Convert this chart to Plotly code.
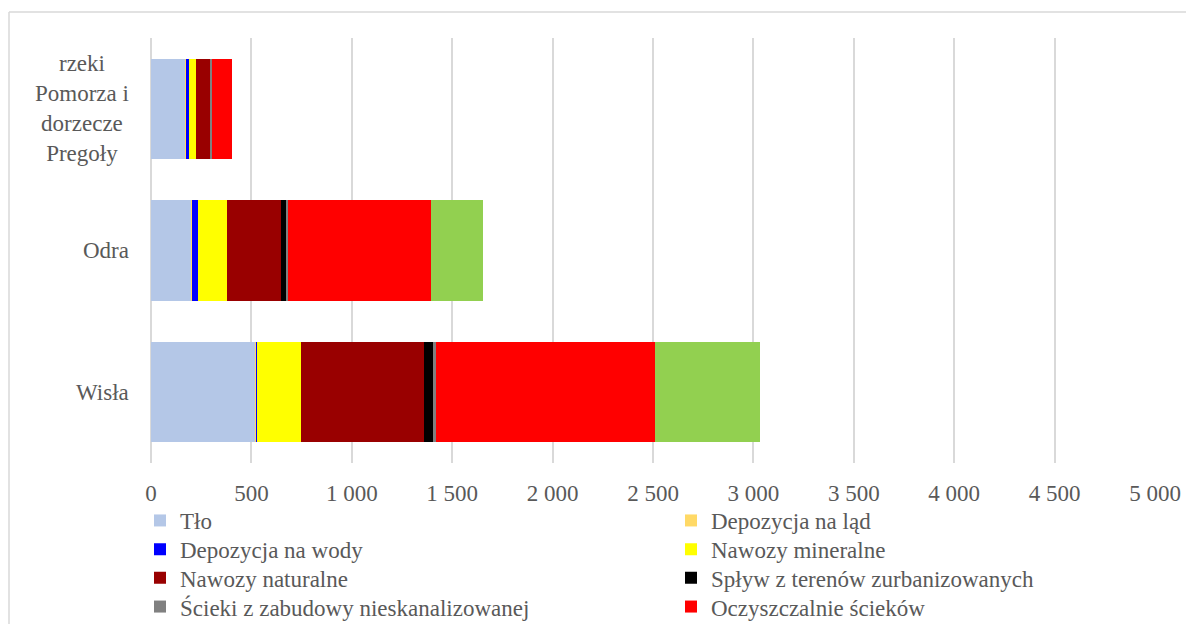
import plotly.graph_objects as go

categories = ["rzeki<br>Pomorza i<br>dorzecze<br>Pregoły", "Odra", "Wisła"]

tlo = [173, 204, 522]
depozycja_lad = [3, 2, 3]
depozycja_wody = [12, 26, 5]
nawozy_mineralne = [35, 148, 219]
nawozy_naturalne = [71, 269, 611]
splyw = [4, 25, 44]
scieki_nieskan = [4, 7, 14]
oczyszczalnie = [100, 712, 1091]
przemysl = [0, 260, 522]

series_names = [
    "Tło", "Depozycja na ląd", "Depozycja na wody", "Nawozy mineralne",
    "Nawozy naturalne", "Spływ z terenów zurbanizowanych",
    "Ścieki z zabudowy nieskanalizowanej", "Oczyszczalnie ścieków",
    "Zakłady przemysłowe",
]
series_values = [tlo, depozycja_lad, depozycja_wody, nawozy_mineralne,
                 nawozy_naturalne, splyw, scieki_nieskan, oczyszczalnie,
                 przemysl]
series_colors = ["#B4C7E7", "#FFD966", "#0000FF", "#FFFF00", "#990000",
                 "#000000", "#808080", "#FF0000", "#92D050"]
n_in_legend = 8  # the last series does not fit into the reference's legend

xticks = [0, 500, 1000, 1500, 2000, 2500, 3000, 3500, 4000, 4500, 5000]

FONT = "Liberation Serif, Times New Roman, serif"
GREY = "#595959"
FS = 23

# page body has an 8px margin, so the figure is drawn 8px in from the corner
OFF = 8
W, H = 1194 - OFF, 624 - OFF
ml = 151 - OFF
mr = W - (1155 - OFF)
mt = 38 - OFF
mb = H - (463 - OFF)
pw = W - ml - mr
ph = H - mt - mb


def px_x(xabs):
    return (xabs - OFF - ml) / pw


def px_y(yabs):
    return (H - mb - (yabs - OFF)) / ph


fig = go.Figure()
legends = {}
for i, (name, vals, color) in enumerate(zip(series_names, series_values, series_colors)):
    if i < n_in_legend:
        lid = "legend" if i == 0 else f"legend{i + 1}"
        kw = dict(legend=lid)
        col, row = i % 2, i // 2
        legends[lid] = dict(
            x=px_x(140 + col * 531), y=px_y(499 + row * 28.7),
            orientation="v", xanchor="left", yanchor="top",
            font=dict(family=FONT, color=GREY, size=FS),
            itemclick=False, itemdoubleclick=False,
            bgcolor="rgba(0,0,0,0)", borderwidth=0,
        )
    else:
        kw = dict(showlegend=False)
    fig.add_trace(go.Bar(
        y=categories, x=vals, name=name, orientation="h",
        marker=dict(color=color, line=dict(width=0)),
        **kw,
    ))

fig.update_layout(
    width=W, height=H,
    barmode="stack", bargap=0.29,
    margin=dict(l=ml, r=mr, t=mt, b=mb, autoexpand=False),
    plot_bgcolor="white", paper_bgcolor="white",
    separators=", ",
    font=dict(family=FONT, color=GREY, size=FS),
    xaxis=dict(
        range=[0, 5000], tickvals=xticks, tickformat=",d",
        showgrid=True, gridcolor="#D9D9D9", gridwidth=1.5,
        zeroline=True, zerolinecolor="#D9D9D9", zerolinewidth=1.5,
        showline=False, ticks="", ticklabelstandoff=14,
        tickfont=dict(family=FONT, color=GREY, size=FS),
        fixedrange=True,
    ),
    yaxis=dict(
        categoryorder="array", categoryarray=categories,
        autorange="reversed", showticklabels=False, showgrid=False,
        showline=False, ticks="", fixedrange=True,
    ),
    showlegend=True,
    **legends,
)

# category labels (centered block, right edge near axis)
for cat in categories:
    fig.add_annotation(
        x=px_x(131), xref="paper", y=cat, yref="y",
        text=cat, showarrow=False, xanchor="right", yanchor="middle",
        align="center", font=dict(family=FONT, color=GREY, size=FS),
    )

# chart outer border (top and left edges visible)
fig.add_shape(type="line", xref="paper", yref="paper",
              x0=px_x(9), x1=px_x(1200), y0=px_y(12), y1=px_y(12),
              line=dict(color="#D9D9D9", width=1.5))
fig.add_shape(type="line", xref="paper", yref="paper",
              x0=px_x(9), x1=px_x(9), y0=px_y(12), y1=px_y(640),
              line=dict(color="#D9D9D9", width=1.5))

fig.write_html("out.html", config={"displayModeBar": False})
